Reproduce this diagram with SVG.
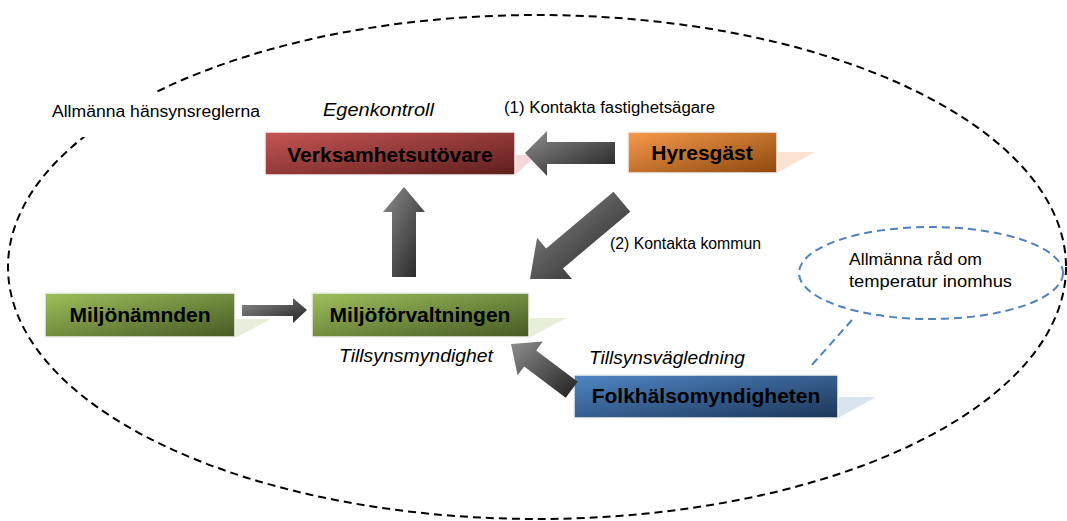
<svg xmlns="http://www.w3.org/2000/svg" width="1067" height="521" viewBox="0 0 1067 521">
<defs>
<linearGradient id="gRed" x1="0" y1="0" x2="1" y2="1"><stop offset="0" stop-color="#c65654"/><stop offset="1" stop-color="#5e1e1d"/></linearGradient>
<linearGradient id="gOrange" x1="0" y1="0" x2="1" y2="1"><stop offset="0" stop-color="#f89a4c"/><stop offset="1" stop-color="#8e480d"/></linearGradient>
<linearGradient id="gGreen" x1="0" y1="0" x2="1" y2="1"><stop offset="0" stop-color="#9fc05c"/><stop offset="1" stop-color="#465a24"/></linearGradient>
<linearGradient id="gBlue" x1="0" y1="0" x2="1" y2="1"><stop offset="0" stop-color="#5086c4"/><stop offset="1" stop-color="#1c365a"/></linearGradient>
<linearGradient id="gArrow" x1="0" y1="0" x2="1" y2="1"><stop offset="0" stop-color="#8e8e8e"/><stop offset="1" stop-color="#1f1f1f"/></linearGradient>
<style>
.box{stroke:#f2f2f2;stroke-width:1.5}
.nt{font-family:"Liberation Sans",Arial,sans-serif;font-weight:bold;font-size:21px;fill:#000;text-anchor:middle}
.lb{font-family:"Liberation Sans",Arial,sans-serif;font-size:16px;fill:#000}
.it{font-family:"Liberation Sans",Arial,sans-serif;font-style:italic;font-size:18px;fill:#000}
.arr{fill:url(#gArrow)}
</style>
</defs>
<rect width="1067" height="521" fill="#fff"/>
<ellipse cx="537" cy="267" rx="529" ry="252" fill="none" stroke="#000" stroke-width="2" stroke-dasharray="8 5"/>
<rect x="45" y="92" width="222" height="45" fill="#fff"/>
<text class="lb" x="52" y="117" font-size="18" textLength="208" lengthAdjust="spacingAndGlyphs">Allmänna hänsynsreglerna</text>

<g id="verksamhetsutovare">
<polygon points="515,155 537,155 515,175" fill="#f3d8d7"/>
<rect class="box" x="265" y="132" width="250" height="43" fill="url(#gRed)"/>
<text class="nt" x="390" y="162">Verksamhetsutövare</text>
</g>
<g id="hyresgast">
<polygon points="777,152 815,152 777,173" fill="#fce3d1"/>
<rect class="box" x="628" y="132" width="149" height="41" fill="url(#gOrange)"/>
<text class="nt" x="702" y="160">Hyresgäst</text>
</g>
<g id="miljonamnden">
<polygon points="235,319 271,319 235,338" fill="#e7efda"/>
<rect class="box" x="45" y="293" width="190" height="44" fill="url(#gGreen)"/>
<text class="nt" x="140" y="322">Miljönämnden</text>
</g>
<g id="miljoforvaltningen">
<polygon points="529,318 566,318 529,338" fill="#e7efda"/>
<rect class="box" x="312" y="293" width="217" height="44" fill="url(#gGreen)"/>
<text class="nt" x="420" y="322">Miljöförvaltningen</text>
</g>
<g id="folkhalsomyndigheten">
<polygon points="838,397 876,397 838,418" fill="#dae4f1"/>
<rect class="box" x="574" y="375" width="264" height="43" fill="url(#gBlue)"/>
<text class="nt" x="706" y="403">Folkhälsomyndigheten</text>
</g>
<g id="allmanna-rad">
<ellipse cx="931" cy="273" rx="132" ry="46" fill="none" stroke="#4f81bd" stroke-width="2" stroke-dasharray="8 5"/>
<line x1="852" y1="320" x2="810" y2="367" stroke="#4f81bd" stroke-width="2" stroke-dasharray="8 5"/>
<text class="lb" x="849" y="265" font-size="18" textLength="133" lengthAdjust="spacingAndGlyphs">Allmänna råd om</text>
<text class="lb" x="849" y="287" font-size="18" textLength="163" lengthAdjust="spacingAndGlyphs">temperatur inomhus</text>
</g>

<g id="connectors">
<polygon class="arr" points="525,153 547,131 547,142 615,142 615,164 547,164 547,176"/>
<polygon class="arr" points="404,187 425,212 416,212 416,277 392,277 392,212 383,212"/>
<polygon class="arr" points="307,310 293,298 293,305 242,305 242,316 293,316 293,323"/>
<polygon class="arr" points="530,279 571.9,279.1 562.9,268.4 630.3,211.8 613.5,191.8 546.1,248.4 537.1,237.7"/>
<polygon class="arr" points="511,344 542.8,341.6 536.2,350.4 577.7,381.8 565.7,397.8 524.2,366.4 517.6,375.2"/>
</g>

<text class="it" x="323" y="116" font-size="19" textLength="111" lengthAdjust="spacingAndGlyphs">Egenkontroll</text>
<text class="lb" x="504" y="113" textLength="211" lengthAdjust="spacingAndGlyphs">(1) Kontakta fastighetsägare</text>
<text class="lb" x="610" y="249" textLength="151" lengthAdjust="spacingAndGlyphs">(2) Kontakta kommun</text>
<text class="it" x="339" y="362" textLength="154" lengthAdjust="spacingAndGlyphs">Tillsynsmyndighet</text>
<text class="it" x="589" y="364" textLength="156" lengthAdjust="spacingAndGlyphs">Tillsynsvägledning</text>
</svg>
